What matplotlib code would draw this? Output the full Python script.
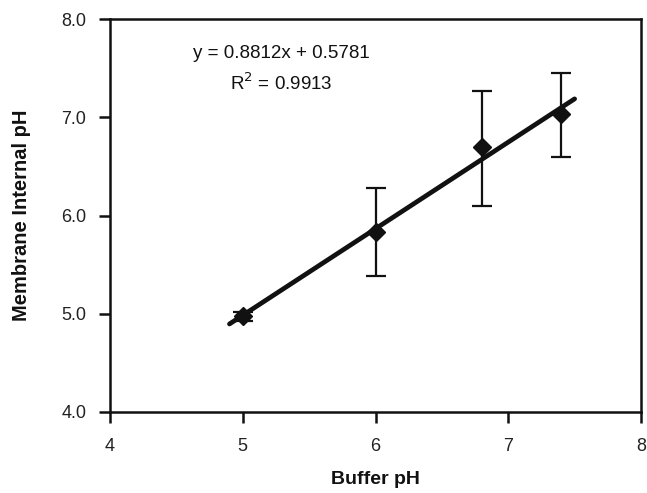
import matplotlib
matplotlib.use("Agg")
import matplotlib.pyplot as plt
import numpy as np

plt.rcParams['font.family'] = ['Liberation Sans', 'DejaVu Sans']

buffer_ph = [5.0, 6.0, 6.8, 7.4]
internal_ph = [4.98, 5.83, 6.70, 7.03]
err_low = [0.05, 0.45, 0.60, 0.43]
err_high = [0.04, 0.45, 0.57, 0.42]
slope, intercept = 0.8812, 0.5781
fit_x = [4.9, 7.5]
x_ticks = [4, 5, 6, 7, 8]
y_ticks = [4.0, 5.0, 6.0, 7.0, 8.0]

fig = plt.figure(figsize=(6.47, 4.93), dpi=100)
ax = fig.add_axes([110/647, 81/493, 531/647, 393/493])

ax.errorbar(buffer_ph, internal_ph, yerr=[err_low, err_high], fmt='none',
            ecolor='#111111', elinewidth=1.6, capsize=7, capthick=1.6, zorder=2)
ax.plot(buffer_ph, internal_ph, linestyle='none', marker='D', markersize=9,
        color='#111111', zorder=3)
fx = np.array(fit_x)
ax.plot(fx, slope * fx + intercept, color='#111111', linewidth=3.4,
        solid_capstyle='round', zorder=4)

ax.set_xlim(4, 8)
ax.set_ylim(4, 8)
ax.set_xticks(x_ticks)
ax.set_xticklabels([str(v) for v in x_ticks])
ax.set_yticks(y_ticks)
ax.set_yticklabels([f"{v:.1f}" for v in y_ticks])
ax.tick_params(direction='out', length=8, width=1.8, labelsize=13,
               color='#111111', labelcolor='#222222')
ax.tick_params(axis='x', pad=11)
ax.tick_params(axis='y', pad=9)
for s in ax.spines.values():
    s.set_linewidth(1.8)
    s.set_color('#111111')

ax.set_xlabel('Buffer pH', fontsize=14, fontweight='bold', labelpad=11,
              color='#111111')
ax.set_ylabel('Membrane Internal pH', fontsize=14.5, fontweight='bold', labelpad=22,
              color='#111111')

ax.text(5.29, 7.65, f'y = {slope:.4f}x + {intercept:.4f}', ha='center', va='center',
        fontsize=13.5, color='#111111')
ax.text(5.29, 7.35, r'R$^2$ = 0.9913', ha='center', va='center',
        fontsize=13.5, color='#111111')

fig.savefig('out.png', dpi=100)
